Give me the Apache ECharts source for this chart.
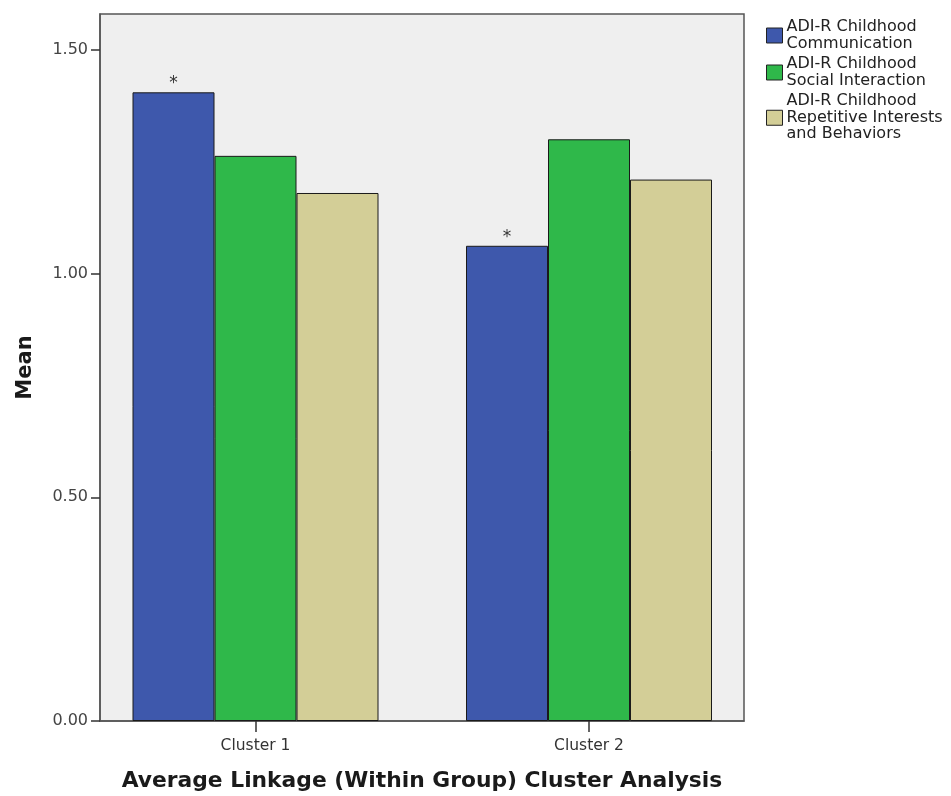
<!DOCTYPE html>
<html>
<head>
<meta charset="utf-8">
<script src="https://cdn.jsdelivr.net/npm/echarts@6/dist/echarts.min.js"></script>
<style>
  html, body { margin: 0; padding: 0; background: #fff; }
  #chart { width: 951px; height: 796px; }
</style>
</head>
<body>
<div id="chart"></div>
<script>
// Cluster groups on the category axis
const clusters = ['Cluster 1', 'Cluster 2'];

// Mean ADI-R childhood domain scores per cluster
const communication = [1.405, 1.062];
const socialInteraction = [1.263, 1.300];
const repetitiveBehaviors = [1.180, 1.210];

// Series names as shown in the legend
const seriesNames = [
  'ADI-R Childhood\nCommunication',
  'ADI-R Childhood\nSocial Interaction',
  'ADI-R Childhood\nRepetitive Interests\nand Behaviors'
];

// Value axis ticks
const yTicks = [0, 0.5, 1.0, 1.5];

const font = '"DejaVu Sans", Verdana, sans-serif';
const chart = echarts.init(document.getElementById('chart'), null, { renderer: 'canvas' });

const barStyle = (color) => ({ color: color, borderColor: '#1a1a1a', borderWidth: 1 });

chart.setOption({
  backgroundColor: '#ffffff',
  animation: false,
  textStyle: { fontFamily: font },
  legend: {
    orient: 'vertical',
    left: 761,
    top: 14,
    itemWidth: 16,
    itemHeight: 15,
    itemGap: 4,
    icon: 'rect',
    itemStyle: { borderColor: '#222', borderWidth: 1 },
    textStyle: { fontFamily: font, fontSize: 16, color: '#222', lineHeight: 16.5, padding: [0, 0, 0, -1] },
    data: seriesNames
  },
  grid: [
    // frame grid: background, border and value axis
    { left: 100, top: 14, width: 644, height: 707, show: true, backgroundColor: '#efefef',
      borderColor: '#555', borderWidth: 1.5, outerBoundsMode: 'none', containLabel: false },
    // bar grid: holds the clustered bars
    { left: 88.75, top: 14, width: 667, height: 707, show: false, outerBoundsMode: 'none', containLabel: false }
  ],
  xAxis: [
    { gridIndex: 0, type: 'category', data: clusters,
      axisLine: { show: true, lineStyle: { color: '#555', width: 1.5 } },
      axisTick: { show: false }, axisLabel: { show: false },
      name: 'Average Linkage (Within Group) Cluster Analysis',
      nameLocation: 'middle', nameGap: 49,
      nameTextStyle: { fontFamily: font, fontSize: 21.8, fontWeight: 'bold', color: '#1a1a1a' } },
    { gridIndex: 1, type: 'category', data: clusters,
      axisLine: { show: false },
      axisTick: { show: true, alignWithLabel: true, length: 11, lineStyle: { color: '#333', width: 1.5 } },
      axisLabel: { show: true, fontFamily: font, fontSize: 15.5, color: '#333', margin: 17 } }
  ],
  yAxis: [
    { gridIndex: 0, type: 'value', min: 0, max: 1.58,
      axisLine: { show: true, lineStyle: { color: '#555', width: 1.5 } },
      axisTick: { show: true, length: 9, customValues: yTicks, lineStyle: { color: '#333', width: 1.5 } },
      axisLabel: { fontFamily: font, fontSize: 16, color: '#444', margin: 12, customValues: yTicks,
        formatter: (v) => Number(v).toFixed(2) },
      splitLine: { show: false },
      name: 'Mean', nameLocation: 'middle', nameGap: 64,
      nameTextStyle: { fontFamily: font, fontSize: 21, fontWeight: 'bold', color: '#1a1a1a' } },
    { gridIndex: 1, type: 'value', min: 0, max: 1.58, show: false, splitLine: { show: false } }
  ],
  series: [
    { name: seriesNames[0], type: 'bar', xAxisIndex: 1, yAxisIndex: 1, data: communication,
      barWidth: 82, barGap: '0%', itemStyle: barStyle('#3e58ac'),
      label: { show: true, position: 'top', formatter: '*', fontSize: 17, color: '#333', distance: 0 } },
    { name: seriesNames[1], type: 'bar', xAxisIndex: 1, yAxisIndex: 1, data: socialInteraction,
      barWidth: 82, barGap: '0%', itemStyle: barStyle('#2fb84a') },
    { name: seriesNames[2], type: 'bar', xAxisIndex: 1, yAxisIndex: 1, data: repetitiveBehaviors,
      barWidth: 82, barGap: '0%', itemStyle: barStyle('#d3ce97') }
  ]
});
</script>
</body>
</html>
